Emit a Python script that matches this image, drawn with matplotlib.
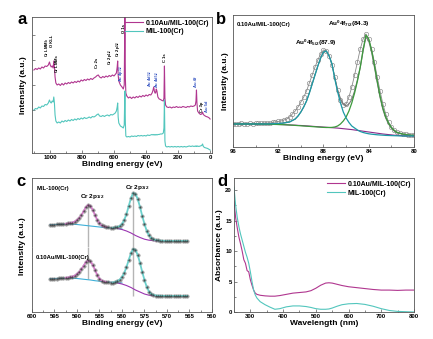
import numpy as np
import matplotlib
matplotlib.use("Agg")
import matplotlib.pyplot as plt

plt.rcParams['font.family'] = ['Liberation Sans', 'DejaVu Sans']
plt.rcParams['font.weight'] = 'bold'
plt.rcParams['axes.labelweight'] = 'bold'
plt.rcParams['mathtext.fontset'] = 'custom'
plt.rcParams['mathtext.rm'] = 'Liberation Sans:bold'
plt.rcParams['mathtext.it'] = 'Liberation Sans:bold'
plt.rcParams['mathtext.bf'] = 'Liberation Sans:bold'

LABEL_AU = "0.10Au/MIL-100(Cr)"
LABEL_MIL = "MIL-100(Cr)"

# (a) XPS survey
survey_e = [1100, 1090, 1080, 1070, 1060, 1050, 1040, 1030, 1020, 1010,
            1003, 998, 992, 986, 980, 976, 972, 968, 963, 955,
            945, 935, 925, 915, 905, 895, 885, 875, 865, 855,
            845, 835, 825, 815, 805, 795, 785, 775, 765, 755,
            745, 735, 725, 715, 705, 698, 690, 680, 670, 660,
            650, 640, 630, 620, 610, 600, 592, 585, 580, 577,
            574, 570, 560, 550, 542, 536, 532, 529, 526, 520,
            510, 500, 490, 480, 470, 460, 450, 440, 430, 420,
            410, 400, 390, 380, 370, 362, 356, 352, 348, 344,
            340, 336, 332, 326, 318, 310, 300, 292, 288, 285,
            282, 278, 270, 260, 250, 240, 230, 220, 210, 200,
            190, 180, 170, 160, 150, 140, 130, 120, 110, 100,
            92, 88, 85, 82, 78, 70, 60, 52, 47, 42,
            35, 25, 15, 5, 0]
survey_au = [83, 84.5, 83.5, 85, 84, 86, 85, 87, 86.5, 88,
             91, 88, 86, 87, 85, 92, 86, 76, 70, 68,
             69, 67.5, 69.5, 68, 70, 69, 70.5, 69.5, 71, 70,
             71.5, 70.5, 72, 71, 73, 72, 73.5, 72.5, 74, 73,
             74.5, 73.5, 75, 76, 77.5, 78, 76, 75, 76.5, 75.5,
             77, 76, 77.5, 76.5, 78, 77, 78.5, 80, 86, 92,
             78, 72, 68, 66, 64, 68, 140, 75, 60, 57,
             55, 56, 54.5, 56, 55, 56.5, 55.5, 57, 56, 57.5,
             56.5, 58, 57, 58.5, 58, 60, 63, 66, 62, 60,
             60, 64, 62, 56, 54, 53.5, 52.5, 52, 55, 87,
             55, 48, 46, 45.5, 46, 45, 46, 45.5, 46.5, 45.5,
             46, 45.5, 46.5, 46, 45.5, 46.5, 46, 47, 46.5, 47,
             48, 52, 63, 50, 42, 40, 38.5, 39, 41, 38.5,
             37.5, 36.5, 36, 35, 34]
survey_mil = [43, 44.5, 44, 46, 45, 47, 46.5, 48.5, 48, 50,
              53, 51, 50, 52, 51, 56, 50, 38, 32, 30,
              31, 30, 32, 31, 32.5, 31.5, 33, 32, 33.5, 32.5,
              34, 33, 34.5, 33.5, 35, 34, 35.5, 34.5, 35, 36,
              35, 36.5, 36, 37, 38.5, 39, 37, 36.5, 37.5, 36.5,
              37.5, 38, 37, 38.5, 38, 39, 40, 42, 46, 50,
              36, 30, 27, 26, 25, 28, 62, 30, 17, 16,
              16.5, 16, 17, 16.5, 17, 16.5, 17.5, 17, 17.5, 17,
              17.5, 17, 18, 17.5, 18, 18.5, 18, 18.5, 18, 18.5,
              18, 18.5, 18, 18.5, 18.5, 19, 19, 20, 25, 53,
              12, 7, 6, 6.5, 6, 6.5, 6, 6.5, 6, 6.5,
              6, 6.5, 6, 6.5, 6, 6.5, 7, 6.5, 7, 6.5,
              7, 6.5, 7, 6.5, 7, 6.5, 7, 7.5, 9, 6.5,
              5.5, 5, 4.5, 3.5, 3]

# peak labels: (text, energy, height, colour key)
survey_tags = [("Cr LMM$_b$", 1020, 96, "k"), ("O KLL", 986, 106, "k"),
               ("Cr LMM$_a$", 956, 80, "k"), ("Cr 2s", 706, 85, "k"),
               ("Cr 2p$_{1/2}$", 624, 88, "k"), ("Cr 2p$_{3/2}$", 577, 96, "k"),
               ("Au 4p$_{3/2}$", 554, 71, "b"), ("O 1s", 540, 120, "k"),
               ("Au 4d$_{3/2}$", 375, 66, "b"), ("Au 4d$_{5/2}$", 331, 65, "b"),
               ("C 1s", 281, 91, "k"), ("Au 4f", 87, 66, "b"),
               ("Cr 3p", 50, 41, "k"), ("Au 5d", 19, 41, "b")]

# (b) Au 4f
au4f_raw_e = np.arange(96, 79.99, -0.25)
au4f_raw = [23, 23, 23, 23.5, 23, 23, 23.5, 23, 23.5, 23.5,
            23.5, 24, 24, 24, 24.5, 25, 25.5, 26, 27, 28,
            30, 33, 36, 40, 45, 50, 56, 64, 72, 80,
            87, 93, 97, 96, 91, 82, 70, 57, 47, 42,
            43, 50, 60, 72, 85, 98, 108, 113, 108, 98,
            85, 70, 56, 43, 33, 25, 20, 17, 15, 14,
            13, 12.5, 12, 12, 12]
au4f_fit_e = [96, 95, 94, 93, 92, 91.5, 91, 90.75, 90.5, 90.25,
              90, 89.75, 89.5, 89.25, 89, 88.75, 88.5, 88.25, 88, 87.75,
              87.5, 87.25, 87, 86.75, 86.5, 86.25, 86, 85.75, 85.5, 85.25,
              85, 84.75, 84.5, 84.25, 84, 83.75, 83.5, 83.25, 83, 82.75,
              82.5, 82.25, 82, 81.75, 81.5, 81, 80.5, 80]
au4f_52 = [23, 23, 23, 23, 23.5, 24, 25, 26.5, 28, 31,
           35, 40, 46, 54, 63, 72, 81, 89, 95, 96,
           91, 83, 68, 55, 44, 35, 29, 24.5, 21, 19,
           17, 15.5, 14.5, 13.8, 13.2, 12.8, 12.5, 12.2, 12, 11.8,
           11.6, 11.5, 11.4, 11.3, 11.2, 11, 11, 11]
au4f_72 = [23, 23, 23, 22.8, 22.5, 22.3, 22, 21.8, 21.6, 21.4,
           21.2, 21, 20.8, 20.6, 20.4, 20.2, 20, 19.8, 19.6, 19.5,
           19.5, 19.6, 20, 21, 23, 26, 30, 36, 44, 54,
           66, 80, 97, 112, 108, 97, 82, 66, 51, 39,
           30, 24, 19.5, 16.5, 14.5, 13, 12, 11.5]
au4f_bg = [23, 23, 23, 22.8, 22.5, 22.3, 22, 21.9, 21.8, 21.6,
           21.5, 21.3, 21.1, 20.9, 20.7, 20.5, 20.3, 20.1, 19.9, 19.7,
           19.5, 19.3, 19.1, 18.9, 18.6, 18.3, 18, 17.7, 17.4, 17,
           16.6, 16.2, 15.8, 15.4, 15, 14.6, 14.2, 13.8, 13.4, 13,
           12.7, 12.4, 12.1, 11.8, 11.6, 11.3, 11.1, 11]
au4f_env = [23, 23, 23, 23, 23.5, 24, 25, 26.5, 28, 31,
            35, 40, 46, 54, 63, 72, 81, 89, 95, 96,
            91, 83, 69, 57, 48.5, 43, 41, 43, 47.5, 56,
            67, 79.5, 96, 110, 106, 95, 80, 64.5, 49.5, 37.5,
            29, 23, 18.8, 16, 14, 12.8, 11.9, 11.5]

# (c) Cr 2p
cr_e = np.arange(596, 565.4, -0.5)
cr_mil = [22.3, 22.4, 22.4,
          22.5, 22.6, 22.8, 23, 23.2, 23.5, 24, 24.5, 25.5, 27,
          29, 32, 36, 40, 42, 41, 37, 32, 27, 23.5,
          21.5, 20.5, 20, 19.5, 19.3, 19.2, 19.5, 20, 21, 23,
          27, 33, 41, 49, 54, 53, 48, 40, 31, 23,
          16, 11.5, 9, 7.5, 7, 6.5, 6.3, 6.2, 6.1, 6,
          6, 6, 6, 6, 6, 6, 6, 6, 6]
cr_au = [33.3, 33.4, 33.4,
         33.5, 33.6, 33.8, 34, 34.2, 34.5, 35, 35.5, 36.5, 38,
         40, 43, 46.5, 50, 51.5, 50.5, 47, 42, 37, 33.5,
         31.5, 30.5, 30, 29.7, 29.5, 29.5, 30, 31, 32.5, 35,
         39, 45, 52, 59, 63, 62, 57, 49, 40, 32,
         25, 20.5, 18, 17, 16.5, 16.3, 16.2, 16.1, 16, 16,
         16, 16, 16, 16, 16, 16, 16, 16, 16]
cr_bg1_e = [596, 592, 590, 589, 588, 587, 586, 585, 584, 583, 582, 581, 580]
cr_bg1_mil = [22.3, 23, 22.5, 22, 21.5, 21, 20.5, 20, 19.5, 19.2, 19, 18.5, 18]
cr_bg1_au = [33.3, 34, 33.5, 33, 32.5, 32, 31.3, 30.8, 30.3, 30, 29.7, 29.4, 29]
cr_bg2_e = [582, 581, 580, 579, 578, 577, 576, 575, 574, 573, 572]
cr_bg2_mil = [19, 18.5, 17.5, 16, 14, 11.5, 9.5, 7.8, 6.8, 6.3, 6]
cr_bg2_au = [29.5, 29, 28, 26.5, 24.5, 22, 20, 18, 16.8, 16.3, 16]
cr_peaks = [587.5, 577.6]

# (d) UV-vis
uv_wl = [250, 255, 260, 265, 270, 275, 280, 285, 290, 295,
         300, 305, 310, 315, 320, 330, 345, 360, 375, 390,
         410, 430, 450, 470, 485, 500, 515, 530, 540, 550,
         565, 580, 600, 625, 650, 675, 700, 725, 750, 775, 800]
uv_au = [18.1, 15.5, 13.8, 12.3, 11.2, 10.0, 8.6, 8.0, 6.8, 6.6,
         5.3, 4.4, 3.6, 3.1, 2.9, 2.75, 2.65, 2.6, 2.6, 2.7,
         2.9, 3.1, 3.2, 3.3, 3.5, 3.9, 4.4, 4.75, 4.8, 4.75,
         4.55, 4.35, 4.15, 4.0, 3.85, 3.7, 3.6, 3.6, 3.55, 3.6, 3.6]
uv_mil = [20.5, 17.5, 15.5, 14.0, 12.8, 11.8, 10.8, 9.8, 9.0, 8.0,
          6.6, 5.0, 3.6, 2.8, 2.3, 1.7, 1.2, 0.8, 0.45, 0.55,
          0.85, 1.0, 1.0, 0.9, 0.75, 0.55, 0.45, 0.45, 0.5, 0.65,
          0.95, 1.2, 1.35, 1.4, 1.25, 0.95, 0.55, 0.25, 0.1, 0.05, 0.0]

MAG = '#b0368f'
TEAL = '#52c6bd'
TICK_FS = 4.3
LAB_FS = 6


def style(ax):
    for s in ax.spines.values():
        s.set_linewidth(0.6)
        s.set_color('#555555')
    ax.tick_params(which='both', direction='in', labelsize=TICK_FS, pad=1.5, width=0.5, color='#555555')
    ax.tick_params(which='major', length=2.2)
    ax.tick_params(which='minor', length=1.2)


def main():
    fig = plt.figure(figsize=(4.33, 3.39), dpi=100)

    # ---- a
    ax = fig.add_axes([0.0739, 0.5487, 0.4157, 0.4012])
    ax.plot(survey_e, survey_au, color=MAG, lw=0.8, label=LABEL_AU)
    ax.plot(survey_e, survey_mil, color=TEAL, lw=0.8, label=LABEL_MIL)
    for txt, e, h, c in survey_tags:
        ax.text(e, h, txt, rotation=90, ha='center', va='bottom', fontsize=3.0,
                color='#2f4fc0' if c == 'b' else 'k')
    ax.set_xlim(1112, -12)
    ax.set_ylim(0, 136)
    ax.set_xticks([1000, 800, 600, 400, 200, 0])
    ax.set_xticks(np.arange(1100, -1, -100), minor=True)
    ax.set_yticks([43, 68, 93, 118])
    ax.set_yticklabels([])
    style(ax)
    ax.set_xlabel("Binding energy (eV)", fontsize=LAB_FS, labelpad=0.5)
    ax.set_ylabel("Intensity (a.u.)", fontsize=LAB_FS, labelpad=2)
    ax.legend(loc='upper right', fontsize=5, frameon=False, handlelength=2.6,
              handletextpad=0.4, labelspacing=0.25, borderaxespad=0.2, borderpad=0.2)

    # ---- b
    ax = fig.add_axes([0.5381, 0.5664, 0.418, 0.3894])
    ax.plot(au4f_raw_e, au4f_raw, color='#8a8a8a', lw=0.6, marker='o', ms=3.2,
            mfc='none', mec='#8a8a8a', mew=0.45)
    ax.plot(au4f_fit_e, au4f_env, color='#7a7a7a', lw=0.8)
    ax.plot(au4f_fit_e, au4f_bg, color='#8a2a8a', lw=0.8)
    ax.plot(au4f_fit_e, au4f_72, color='#3c9a3c', lw=0.9)
    ax.plot(au4f_fit_e, au4f_52, color='#1b9aa6', lw=0.9)
    ax.text(95.65, 122, LABEL_AU, fontsize=4.2, va='center', ha='left')
    ax.text(85.8, 123, "Au$^0$4f$_{7/2}$(84.3)", fontsize=4.6, va='center', ha='center')
    ax.text(88.7, 104, "Au$^0$4f$_{5/2}$(87.9)", fontsize=4.6, va='center', ha='center')
    ax.set_xlim(96, 80)
    ax.set_ylim(0, 132)
    ax.set_xticks([96, 92, 88, 84, 80])
    ax.set_xticks(np.arange(96, 79, -2), minor=True)
    ax.set_yticks([])
    style(ax)
    ax.set_xlabel("Binding energy (eV)", fontsize=LAB_FS, labelpad=0.5)
    ax.set_ylabel("Intensity (a.u.)", fontsize=LAB_FS, labelpad=3)

    # ---- c
    axc1 = fig.add_axes([0.0739, 0.2714, 0.4157, 0.2035])
    axc2 = fig.add_axes([0.0739, 0.0796, 0.4157, 0.1918])
    for axc, y, bg1, bg2, ylim in [(axc1, cr_mil, cr_bg1_mil, cr_bg2_mil, 69),
                                   (axc2, cr_au, cr_bg1_au, cr_bg2_au, 65)]:
        y = np.asarray(y)
        left = (cr_e <= 592.5) & (cr_e >= 583.5)
        right = cr_e <= 582
        axc.plot(cr_bg1_e, bg1, color='#3fb0d8', lw=0.8)
        axc.plot(cr_bg2_e, bg2, color='#9a35b0', lw=0.8)
        axc.plot(cr_e, y, ls='none', marker='o', ms=2.4, mfc='none', mec='#777777', mew=0.4)
        axc.plot(cr_e[left], y[left], color='#d27fc8', lw=1.3)
        axc.plot(cr_e[right], y[right], color='#6dd0cc', lw=1.3)
        axc.plot(cr_e, y, ls='none', marker='.', ms=1.0, color='#333333')
        axc.set_xlim(600, 560)
        axc.set_ylim(0, ylim)
        axc.set_yticks([])
        style(axc)
    for i, pk in enumerate(cr_peaks):
        top = np.interp(pk, cr_e[::-1], np.asarray(cr_mil)[::-1])
        base = cr_bg1_au[0] if i == 0 else cr_bg2_au[-1]
        axc1.vlines(pk, 0, top, color='#b5b5b5', lw=1.0, zorder=1)
        axc2.vlines(pk, base, 65, color='#b5b5b5', lw=1.0, zorder=1)
    axc1.tick_params(which='both', bottom=False, labelbottom=False)
    axc2.spines['top'].set_visible(False)
    axc2.set_xticks(np.arange(600, 559, -5))
    axc2.set_xticks(np.arange(600, 559, -2.5), minor=True)
    axc1.text(598.9, 59, LABEL_MIL, fontsize=4.2, va='center', ha='left')
    axc2.text(599.2, 54, LABEL_AU, fontsize=4.2, va='center', ha='left')
    axc1.text(586.7, 51, "Cr 2p$_{1/2}$", fontsize=4.6, va='center', ha='center')
    axc1.text(576.7, 60, "Cr 2p$_{3/2}$", fontsize=4.6, va='center', ha='center')
    axc2.set_xlabel("Binding energy (eV)", fontsize=LAB_FS, labelpad=0.5)
    fig.text(23 / 433, 1 - 246 / 339, "Intensity (a.u.)", rotation=90, fontsize=LAB_FS,
             ha='center', va='center')

    # ---- d
    ax = fig.add_axes([0.5404, 0.0796, 0.4157, 0.3953])
    ax.plot(uv_wl, uv_au, color=MAG, lw=0.8, label=LABEL_AU)
    ax.plot(uv_wl, uv_mil, color=TEAL, lw=0.8, label=LABEL_MIL)
    ax.set_xlim(250, 800)
    ax.set_ylim(0, 22)
    ax.set_xticks([300, 400, 500, 600, 700, 800])
    ax.set_xticks(np.arange(250, 801, 50), minor=True)
    ax.set_yticks([0, 5, 10, 15, 20])
    ax.set_yticks(np.arange(0, 22, 2.5), minor=True)
    style(ax)
    ax.set_xlabel("Wavelength (nm)", fontsize=LAB_FS, labelpad=0.5)
    ax.set_ylabel("Absorbance (a.u.)", fontsize=LAB_FS, labelpad=1.5)
    ax.legend(loc='upper right', fontsize=5, frameon=False, handlelength=2.6,
              handletextpad=0.4, labelspacing=0.25, borderaxespad=0.2, borderpad=0.2)

    for t, x, y in [('a', 22.5, 20), ('b', 221.5, 19), ('c', 21, 181), ('d', 222.5, 181)]:
        fig.text(x / 433, 1 - y / 339, t, fontsize=12, fontweight='bold', ha='center', va='center')

    fig.savefig("out.png", dpi=100)


if __name__ == '__main__':
    main()
